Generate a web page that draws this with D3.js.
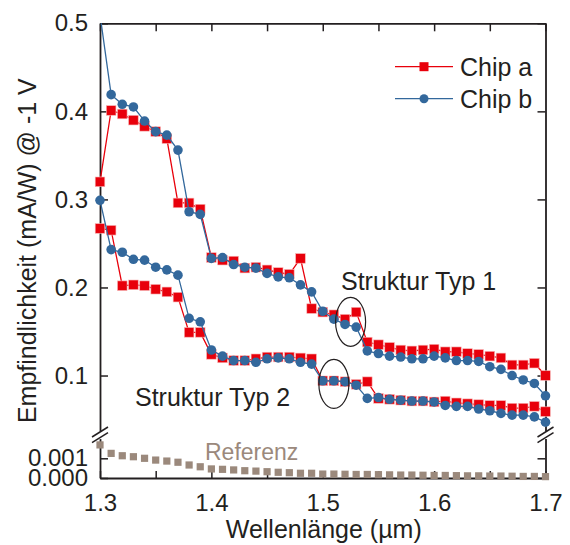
<!DOCTYPE html>
<html>
<head>
<meta charset="utf-8">
<script src="https://cdn.jsdelivr.net/npm/d3@7"></script>
<style>
  body { margin: 0; background: #fff; }
  text { font-family: "Liberation Sans", Arial, sans-serif; fill: #231f20; }
</style>
</head>
<body>
<svg id="chart" width="570" height="545"></svg>
<script>
// wavelength in µm
var wavelengths = [1.30,1.31,1.32,1.33,1.34,1.35,1.36,1.37,1.38,1.39,1.40,1.41,1.42,1.43,1.44,1.45,1.46,1.47,1.48,1.49,
  1.50,1.51,1.52,1.53,1.54,1.55,1.56,1.57,1.58,1.59,1.60,1.61,1.62,1.63,1.64,1.65,1.66,1.67,1.68,1.69,1.70];

// responsivity in mA/W
var chipA_typ1 = [0.320,0.401,0.397,0.390,0.383,0.377,0.369,0.296,0.296,0.289,0.234,0.231,0.230,0.222,0.223,0.220,0.217,0.215,0.233,0.176,
  0.172,0.169,0.164,0.172,0.138,0.135,0.132,0.129,0.128,0.129,0.130,0.127,0.127,0.125,0.124,0.122,0.120,0.112,0.112,0.114,0.100];
var chipB_typ1 = [0.510,0.419,0.408,0.405,0.389,0.377,0.373,0.356,0.286,0.283,0.233,0.234,0.226,0.223,0.222,0.216,0.212,0.211,0.203,0.195,
  0.173,0.164,0.158,0.155,0.128,0.125,0.122,0.121,0.119,0.119,0.122,0.120,0.117,0.117,0.116,0.110,0.107,0.100,0.095,0.091,0.077];
var chipA_typ2 = [0.267,0.265,0.202,0.203,0.202,0.198,0.195,0.189,0.149,0.149,0.124,0.120,0.117,0.117,0.119,0.121,0.121,0.121,0.120,0.119,
  0.094,0.094,0.093,0.090,0.093,0.074,0.073,0.072,0.071,0.071,0.070,0.071,0.069,0.068,0.067,0.066,0.066,0.063,0.063,0.065,0.059];
var chipB_typ2 = [0.299,0.243,0.240,0.232,0.231,0.223,0.220,0.214,0.165,0.161,0.129,0.122,0.117,0.117,0.115,0.119,0.120,0.119,0.115,0.113,
  0.094,0.094,0.093,0.089,0.074,0.075,0.073,0.072,0.071,0.071,0.070,0.066,0.065,0.065,0.062,0.060,0.057,0.055,0.055,0.053,0.047];
var referenz = [0.00168,0.00125,0.00113,0.00108,0.00100,0.00091,0.00086,0.00080,0.00066,0.00057,0.00046,0.00044,0.00041,0.00037,0.00035,0.00032,0.00029,0.00027,0.00024,0.00024,
  0.00020,0.00020,0.00019,0.00018,0.00018,0.00017,0.00016,0.00015,0.00015,0.00014,0.00013,0.00013,0.00012,0.00011,0.00011,0.00010,0.00010,0.00009,0.00008,0.00008,0.00007];

var xTicks = [1.3,1.35,1.4,1.45,1.5,1.55,1.6,1.65,1.7];
var yTicksUpper = [0.1,0.2,0.3,0.4,0.5];
var yTicksLower = [0,0.001];

// circled regions (wavelength, responsivity)
var circles = [
  {x: 1.525, y: 0.161},
  {x: 1.51, y: 0.0905}
];

var colors = {a: '#e8000b', b: '#33689c', ref: '#9b897c', axis: '#231f20'};

var svg = d3.select('#chart');

var x = d3.scaleLinear().domain([1.3, 1.7]).range([100, 545.5]);
var yUp = d3.scaleLinear().domain([0.037, 0.5]).range([431, 23.3]);
var yLo = d3.scaleLinear().domain([0, 0.002]).range([478, 438.6]);

svg.append('clipPath').attr('id', 'clipUp')
  .append('rect').attr('x', 80).attr('y', yUp(0.5)).attr('width', 490).attr('height', 420);

// axes
function styleAxis(g){
  g.selectAll('path.domain').attr('stroke', colors.axis).attr('stroke-width', 1.8);
  g.selectAll('.tick line').attr('stroke', colors.axis).attr('stroke-width', 1.5);
  g.selectAll('.tick text').style('font-size', '24px').attr('fill', colors.axis);
}

var fmt1 = d3.format('.1f');
svg.append('g').attr('transform', 'translate(0,' + yLo(0) + ')')
  .call(d3.axisBottom(x).tickValues(xTicks).tickSizeInner(-7).tickSizeOuter(0)
    .tickPadding(16).tickFormat(function(d){ return Math.round(d*100) % 10 === 0 ? fmt1(d) : ''; }))
  .call(styleAxis);
svg.append('g').attr('transform', 'translate(0,' + yUp(0.5) + ')')
  .call(d3.axisTop(x).tickValues(xTicks).tickSizeInner(-8).tickSizeOuter(0).tickFormat(''))
  .call(styleAxis);

svg.append('g').attr('transform', 'translate(' + x(1.3) + ',0)')
  .call(d3.axisLeft(yUp).tickValues(yTicksUpper).tickSizeInner(-8).tickSizeOuter(0)
    .tickPadding(12).tickFormat(d3.format('.1f')))
  .call(styleAxis);
svg.append('g').attr('transform', 'translate(' + x(1.7) + ',0)')
  .call(d3.axisRight(yUp).tickValues(yTicksUpper).tickSizeInner(-8).tickSizeOuter(0).tickFormat(''))
  .call(styleAxis);
svg.append('g').attr('transform', 'translate(' + x(1.3) + ',0)')
  .call(d3.axisLeft(yLo).tickValues(yTicksLower).tickSizeInner(-8).tickSizeOuter(0)
    .tickPadding(12).tickFormat(d3.format('.3f')))
  .call(styleAxis);
svg.append('g').attr('transform', 'translate(' + x(1.7) + ',0)')
  .call(d3.axisRight(yLo).tickValues(yTicksLower).tickSizeInner(-8).tickSizeOuter(0).tickFormat(''))
  .call(styleAxis);

// axis break marks
[x(1.3), x(1.7)].forEach(function(px){
  [yUp.range()[0] + 1, yLo.range()[1] - 1].forEach(function(py){
    svg.append('line')
      .attr('x1', px - 8).attr('y1', py + 5)
      .attr('x2', px + 8).attr('y2', py - 5)
      .attr('stroke', colors.axis).attr('stroke-width', 1.5);
  });
});

// series
var series = [
  {vals: chipA_typ1, color: colors.a, shape: 'square'},
  {vals: chipA_typ2, color: colors.a, shape: 'square'},
  {vals: chipB_typ1, color: colors.b, shape: 'circle'},
  {vals: chipB_typ2, color: colors.b, shape: 'circle'}
];

var plot = svg.append('g').attr('clip-path', 'url(#clipUp)');

series.forEach(function(s){
  var pts = wavelengths.map(function(w, i){ return [w, s.vals[i]]; });
  var line = d3.line().x(function(d){ return x(d[0]); }).y(function(d){ return yUp(d[1]); });
  plot.append('path').datum(pts)
    .attr('d', line).attr('fill', 'none')
    .attr('stroke', s.color).attr('stroke-width', 1.3);
  if (s.shape == 'square') {
    plot.selectAll(null).data(pts).enter().append('rect')
      .attr('x', function(d){ return x(d[0]) - 4.8; })
      .attr('y', function(d){ return yUp(d[1]) - 4.8; })
      .attr('width', 9.6).attr('height', 9.6)
      .attr('fill', s.color).attr('stroke', '#f7b5b5').attr('stroke-width', 0.6);
  } else {
    plot.selectAll(null).data(pts).enter().append('circle')
      .attr('cx', function(d){ return x(d[0]); })
      .attr('cy', function(d){ return yUp(d[1]); })
      .attr('r', 4.8)
      .attr('fill', s.color);
  }
});

// reference
svg.append('g').selectAll('rect').data(referenz).enter().append('rect')
  .attr('x', function(d, i){ return x(wavelengths[i]) - 3.6; })
  .attr('y', function(d){ return yLo(d) - 3.6; })
  .attr('width', 7.2).attr('height', 7.2)
  .attr('fill', colors.ref);

// ellipses
svg.selectAll('ellipse').data(circles).enter().append('ellipse')
  .attr('cx', function(d){ return x(d.x); })
  .attr('cy', function(d){ return yUp(d.y); })
  .attr('rx', 15).attr('ry', 24.5)
  .attr('fill', 'none').attr('stroke', '#231f20').attr('stroke-width', 1.2);

// labels
svg.append('text').attr('x', 341).attr('y', 290).style('font-size', '25px').text('Struktur Typ 1');
svg.append('text').attr('x', 135).attr('y', 406).style('font-size', '25px').text('Struktur Typ 2');
svg.append('text').attr('x', 205).attr('y', 460).style('font-size', '23px')
  .style('fill', colors.ref).text('Referenz');

svg.append('text')
  .attr('transform', 'translate(36,' + ((yUp(0.5) + yLo(0)) / 2) + ') rotate(-90)')
  .attr('text-anchor', 'middle').style('font-size', '25px')
  .text('Empfindlichkeit (mA/W) @ -1 V');
svg.append('text').attr('x', (x(1.3) + x(1.7)) / 2 + 1).attr('y', 538)
  .attr('text-anchor', 'middle').style('font-size', '25px')
  .text('Wellenlänge (µm)');

// legend
var legend = [
  {name: 'Chip a', color: colors.a, shape: 'square'},
  {name: 'Chip b', color: colors.b, shape: 'circle'}
];
legend.forEach(function(l, i){
  var ly = 66.7 + i * 32;
  svg.append('line').attr('x1', 395).attr('x2', 453).attr('y1', ly).attr('y2', ly)
    .attr('stroke', l.color).attr('stroke-width', 1.3);
  if (l.shape == 'square') {
    svg.append('rect').attr('x', 424 - 4.5).attr('y', ly - 4.5).attr('width', 9).attr('height', 9).attr('fill', l.color);
  } else {
    svg.append('circle').attr('cx', 424).attr('cy', ly).attr('r', 4.5).attr('fill', l.color);
  }
  svg.append('text').attr('x', 460).attr('y', ly + 9).style('font-size', '25px').text(l.name);
});
</script>
</body>
</html>
